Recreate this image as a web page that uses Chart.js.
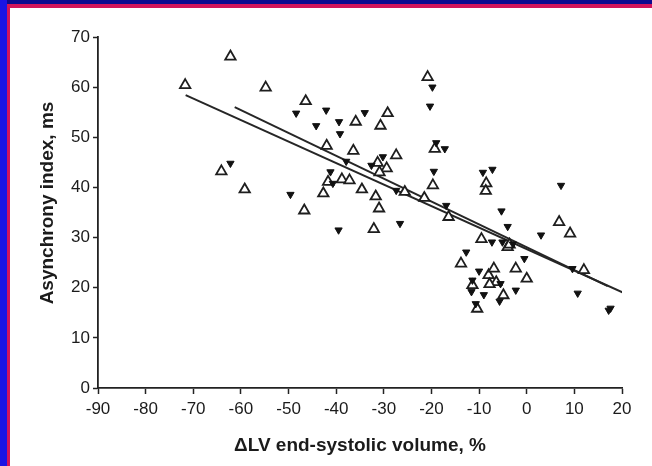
<!DOCTYPE html>
<html>
<head>
  <meta charset="utf-8">
  <title>Asynchrony index vs ΔLV end-systolic volume</title>
  <script src="https://cdn.jsdelivr.net/npm/chart.js"></script>
  <style>
    html, body {
      margin: 0;
      padding: 0;
      background: #fff;
    }
    .frame {
      position: relative;
      width: 652px;
      height: 466px;
      overflow: hidden;
      background: #fff;
    }
    .frame canvas {
      position: absolute;
      left: 0;
      top: 0;
    }
    /* coloured slide border, top and left only */
    .band-top { position: absolute; left: 0; top: 0; width: 652px; height: 4px; background: #0b0a8e; }
    .band-left { position: absolute; left: 0; top: 0; width: 7px; height: 466px; background: #1a14e4; }
    .rule-top { position: absolute; left: 7px; top: 4px; width: 645px; height: 4px; background: #d2145a; }
    .rule-left { position: absolute; left: 7px; top: 4px; width: 3px; height: 462px; background: #d2145a; }
  </style>
</head>
<body>
  <div class="frame">
    <canvas id="scatterChart" width="652" height="466"></canvas>
    <div class="band-top"></div>
    <div class="band-left"></div>
    <div class="rule-top"></div>
    <div class="rule-left"></div>
  </div>

  <script>
    // open triangles
    const xOpen = [-71.7, -62.2, -54.8, -46.4, -64.1, -59.2, -46.7, -42.0, -42.7, -41.7,
                   -38.8, -37.2, -36.4, -35.9, -34.6, -30.7, -29.2, -31.7, -31.0, -32.1,
                   -31.3, -29.4, -30.9, -27.4, -25.6, -21.5, -20.8, -19.7, -19.3, -16.4,
                   -13.8, -11.4, -10.4, -9.5, -8.5, -8.6, -8.0, -6.9, -6.4, -7.8,
                   -4.9, -4.0, -3.6, -2.3, 0.0, 6.8, 9.1, 12.0];
    const yOpen = [60.4, 66.1, 59.9, 57.2, 43.2, 39.6, 35.4, 48.3, 38.8, 41.1,
                   41.6, 41.4, 47.3, 53.1, 39.6, 52.3, 54.8, 38.2, 35.8, 31.7,
                   44.9, 43.8, 43.0, 46.4, 39.1, 37.9, 62.0, 40.4, 47.7, 34.1,
                   24.8, 20.5, 15.8, 29.7, 40.8, 39.3, 22.5, 23.8, 21.1, 20.7,
                   18.5, 28.1, 28.6, 23.8, 21.8, 33.1, 30.8, 23.5];

    // filled inverted triangles
    const xFilled = [-62.2, -49.6, -48.4, -44.2, -42.1, -39.4, -39.2, -41.2, -40.7, -39.5,
                     -37.9, -34.0, -32.6, -30.2, -27.4, -26.6, -20.3, -19.8, -19.0, -17.2,
                     -19.5, -16.9, -12.7, -11.4, -11.6, -10.7, -10.0, -9.2, -7.2, -9.0,
                     -7.3, -5.1, -5.3, -4.0, -2.9, -0.5, -5.5, -5.7, -2.3, 3.0,
                     7.2, 9.6, 10.7, 17.2, 17.6];
    const yFilled = [44.8, 38.6, 54.8, 52.3, 55.4, 53.1, 50.7, 43.1, 40.8, 31.5,
                     45.2, 54.9, 44.4, 46.1, 39.4, 32.8, 56.2, 60.0, 48.9, 47.7,
                     43.2, 36.4, 27.1, 21.5, 19.2, 16.8, 23.3, 43.0, 43.6, 18.6,
                     29.1, 29.1, 35.3, 32.2, 28.7, 25.8, 20.8, 17.3, 19.5, 30.5,
                     40.4, 23.8, 18.9, 15.5, 15.9];

    // regression lines (end points)
    const fitOpenX = [-71.6, 20.5];
    const fitOpenY = [58.4, 18.9];
    const fitFilledX = [-61.3, 17.0];
    const fitFilledY = [56.0, 20.3];

    // axes
    const xRange = [-90, 20];
    const yRange = [0, 70];
    const tickStep = 10;
    const xTitle = 'ΔLV end-systolic volume, %';
    const yTitle = 'Asynchrony index, ms';

    const toPoints = (xs, ys) => xs.map((x, i) => ({ x: x, y: ys[i] }));

    const ink = '#1b1b1b';
    const fontFamily = '"Liberation Sans", Arial, Helvetica, sans-serif';

    // rotated y title, placed a little above the axis centre
    const yTitlePlugin = {
      id: 'yTitle',
      afterDraw(chart) {
        const c = chart.ctx;
        c.save();
        c.translate(48, 203);
        c.rotate(-Math.PI / 2);
        c.font = 'bold 19px ' + fontFamily;
        c.fillStyle = ink;
        c.textAlign = 'center';
        c.textBaseline = 'middle';
        c.fillText(yTitle, 0, 0);
        c.restore();
      }
    };

    const ctx = document.getElementById('scatterChart').getContext('2d');
    const chart = new Chart(ctx, {
      type: 'scatter',
      data: {
        datasets: [
          {
            label: 'fit open',
            data: toPoints(fitOpenX, fitOpenY),
            showLine: true,
            borderColor: '#262626',
            borderWidth: 2,
            pointRadius: 0,
            fill: false,
            order: 3
          },
          {
            label: 'fit filled',
            data: toPoints(fitFilledX, fitFilledY),
            showLine: true,
            borderColor: '#262626',
            borderWidth: 2,
            pointRadius: 0,
            fill: false,
            order: 3
          },
          {
            label: 'open',
            data: toPoints(xOpen, yOpen),
            pointStyle: 'triangle',
            pointRadius: 6,
            borderWidth: 1.8,
            borderColor: '#1e1e1e',
            backgroundColor: '#ffffff',
            order: 2
          },
          {
            label: 'filled',
            data: toPoints(xFilled, yFilled),
            pointStyle: 'triangle',
            rotation: 180,
            pointRadius: 4.2,
            borderWidth: 1,
            borderColor: '#111111',
            backgroundColor: '#111111',
            order: 1
          }
        ]
      },
      options: {
        responsive: false,
        animation: false,
        layout: {
          padding: { left: 0, top: 37, right: 30, bottom: 0 }
        },
        plugins: {
          legend: { display: false },
          tooltip: { enabled: false }
        },
        scales: {
          x: {
            type: 'linear',
            min: xRange[0],
            max: xRange[1],
            afterFit: scale => { scale.height = 78; },
            ticks: {
              stepSize: tickStep,
              color: ink,
              padding: 5,
              font: { family: fontFamily, size: 17 }
            },
            grid: {
              drawOnChartArea: false,
              drawTicks: true,
              tickLength: 6,
              tickColor: '#222',
              tickWidth: 1.5
            },
            border: { color: '#222', width: 1.8 },
            title: {
              display: true,
              text: xTitle,
              color: ink,
              padding: { top: 0, bottom: 9 },
              font: { family: fontFamily, size: 19, weight: 'bold' }
            }
          },
          y: {
            type: 'linear',
            min: yRange[0],
            max: yRange[1],
            afterFit: scale => { scale.width = 98; },
            ticks: {
              stepSize: tickStep,
              color: ink,
              padding: 3,
              font: { family: fontFamily, size: 17 }
            },
            grid: {
              drawOnChartArea: false,
              drawTicks: true,
              tickLength: 5,
              tickColor: '#222',
              tickWidth: 1.5
            },
            border: { color: '#222', width: 1.8 }
          }
        }
      },
      plugins: [yTitlePlugin]
    });
  </script>
</body>
</html>
